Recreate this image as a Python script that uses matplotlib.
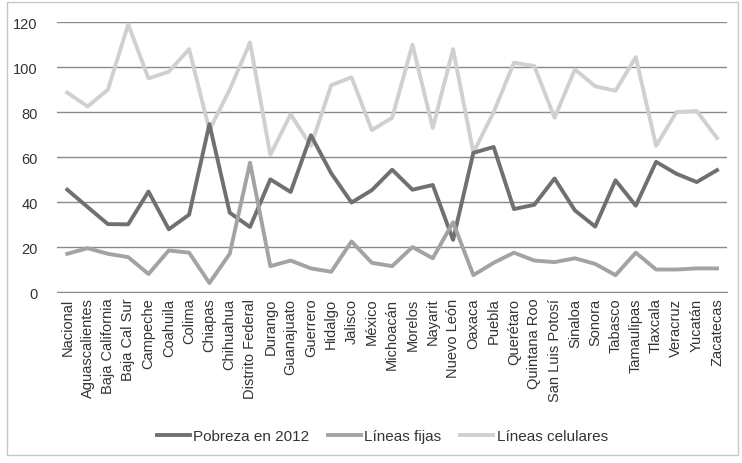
import numpy as np
import matplotlib
matplotlib.use('Agg')
import matplotlib.pyplot as plt
from matplotlib.patches import Rectangle

plt.rcParams['font.family'] = ['Liberation Sans', 'DejaVu Sans']

estados = ['Nacional', 'Aguascalientes', 'Baja California', 'Baja Cal Sur', 'Campeche',
           'Coahuila', 'Colima', 'Chiapas', 'Chihuahua', 'Distrito Federal', 'Durango',
           'Guanajuato', 'Guerrero', 'Hidalgo', 'Jalisco', 'México', 'Michoacán',
           'Morelos', 'Nayarit', 'Nuevo León', 'Oaxaca', 'Puebla', 'Querétaro',
           'Quintana Roo', 'San Luis Potosí', 'Sinaloa', 'Sonora', 'Tabasco',
           'Tamaulipas', 'Tlaxcala', 'Veracruz', 'Yucatán', 'Zacatecas']

pobreza = [45.5, 37.8, 30.2, 30.1, 44.7, 27.9, 34.4, 74.7, 35.3, 28.9, 50.1,
           44.5, 69.7, 52.8, 39.8, 45.3, 54.4, 45.5, 47.6, 23.2, 61.9, 64.5,
           36.9, 38.8, 50.5, 36.3, 29.1, 49.7, 38.4, 57.9, 52.6, 48.9, 54.2]

fijas = [17, 19.5, 17, 15.5, 8, 18.5, 17.5, 4, 17, 57.5, 11.5,
         14, 10.5, 9, 22.5, 13, 11.5, 20, 15, 31, 7.5, 13,
         17.5, 14, 13.3, 15, 12.5, 7.5, 17.5, 10, 10, 10.5, 10.5]

celulares = [88.7, 82.5, 90, 119, 95, 98, 108, 72, 90, 111, 61,
             79, 65, 92, 95.5, 72, 77.5, 110, 73, 108, 62, 80,
             102, 100.5, 77.5, 99, 91.5, 89.5, 104.5, 65, 80, 80.5, 68.5]

fig = plt.figure(figsize=(7.42, 4.64), dpi=100)
ax = fig.add_axes([0.077, 0.3685, 0.903, 0.5815])

x = np.arange(len(estados))
ax.plot(x, pobreza, color='#707070', lw=2.8, label='Pobreza en 2012', zorder=3)
ax.plot(x, fijas, color='#a3a3a3', lw=2.8, label='Líneas fijas', zorder=3)
ax.plot(x, celulares, color='#d0d0d0', lw=2.8, label='Líneas celulares', zorder=2)

ax.set_ylim(0, 120)
ax.set_yticks(range(0, 121, 20))
ax.set_xlim(-0.5, len(estados) - 0.5)
ax.set_xticks(x)
ax.set_xticklabels(estados, rotation=90, fontsize=10.5, color='#333333')
ax.tick_params(axis='y', labelsize=10.5, labelcolor='#333333', length=0, pad=14)
ax.tick_params(axis='x', length=0, pad=4)
ax.yaxis.grid(True, color='#8a8a8a', lw=1)
ax.set_axisbelow(True)
for s in ['top', 'right', 'left']:
    ax.spines[s].set_visible(False)
ax.spines['bottom'].set_color('#8a8a8a')

fig.legend(loc='center', bbox_to_anchor=(0.515, 0.058), ncol=3, frameon=False,
           fontsize=11, handlelength=2.2, handletextpad=0.2, columnspacing=1.2,
           labelcolor='#333333')

fig.patches.append(Rectangle((0.009, 0.018), 0.985, 0.975, transform=fig.transFigure,
                             fill=False, edgecolor='#c8c8c8', lw=1))

fig.savefig('out.png')
